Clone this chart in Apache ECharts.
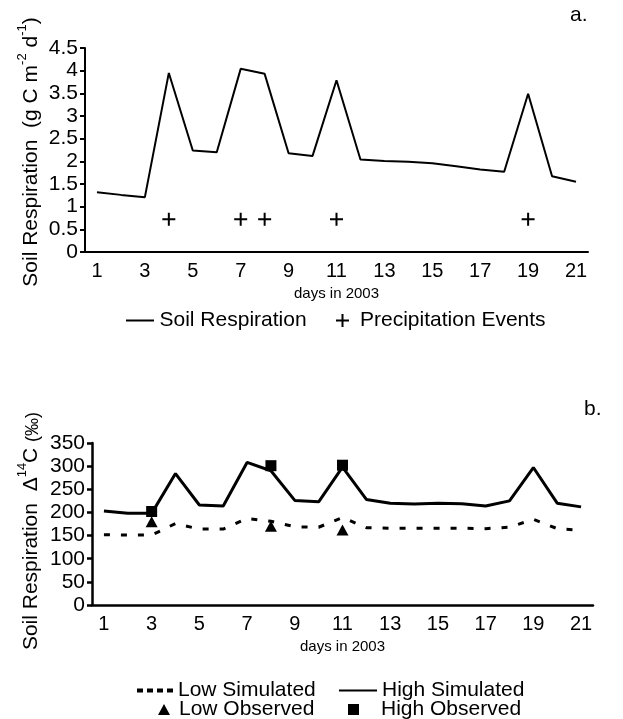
<!DOCTYPE html>
<html>
<head>
<meta charset="utf-8">
<script src="https://cdn.jsdelivr.net/npm/echarts@6/dist/echarts.min.js"></script>
<style>
  html, body { margin: 0; padding: 0; background: #fff; }
  #chart { width: 623px; height: 719px; }
</style>
</head>
<body>
<div id="chart"></div>
<script>
// days on the x axis
var days = ['1','2','3','4','5','6','7','8','9','10','11','12','13','14','15','16','17','18','19','20','21'];

// panel a
var soilResp = [1.32, 1.26, 1.21, 3.95, 2.24, 2.20, 4.04, 3.93, 2.18, 2.12, 3.79, 2.04, 2.01, 1.99, 1.96, 1.89, 1.82, 1.77, 3.49, 1.67, 1.55];
var precipDays = ['4', '7', '8', '11', '19'];
var precipLevel = 0.72;

// panel b
var highSim = [203, 198, 198, 284, 216, 214, 308, 290, 226, 223, 298, 228, 220, 218, 220, 219, 214, 225, 297, 220, 212];
var lowSim = [152, 151, 151, 176, 164, 164, 187, 181, 169, 168, 189, 167, 166, 166, 166, 166, 165, 168, 185, 165, 161];
var obsDays = ['3', '8', '11'];
var lowObs = [180, 170, 162];
var highObs = [202, 301, 302];

var FONT = 'Liberation Sans, Arial, sans-serif';
var plusPath = 'path://M5.5,0h2v5.5h5.5v2h-5.5v5.5h-2v-5.5h-5.5v-2h5.5z';
var dashIcon = 'path://M0,0h6v4h-6zM10,0h6v4h-6zM20,0h6v4h-6zM30,0h6v4h-6z';

function xAxisFor(grid, lw) {
  return {
    type: 'category', gridIndex: grid, data: days, boundaryGap: true,
    axisLine: { lineStyle: { color: '#000', width: lw } },
    axisTick: { interval: 0, length: 6, lineStyle: { color: '#000', width: lw } },
    axisLabel: { interval: 1, color: '#000', fontSize: 20, margin: 9, fontFamily: FONT },
    name: 'days in 2003', nameLocation: 'middle', nameGap: 34,
    nameTextStyle: { color: '#000', fontSize: 15, fontFamily: FONT },
    splitLine: { show: false }
  };
}
function yAxisFor(grid, max, step, lw) {
  return {
    type: 'value', gridIndex: grid, min: 0, max: max, interval: step,
    axisLine: { show: true, lineStyle: { color: '#000', width: lw } },
    axisTick: { show: true, length: 5, lineStyle: { color: '#000', width: lw } },
    axisLabel: { color: '#000', fontSize: 21, margin: 7, fontFamily: FONT },
    splitLine: { show: false }
  };
}
var legendText = { fontSize: 21, color: '#000', fontFamily: FONT };

var chart = echarts.init(document.getElementById('chart'));
chart.setOption({
  animation: false,
  textStyle: { fontFamily: FONT, color: '#000' },
  grid: [
    { left: 85, top: 48, width: 503, height: 204 },
    { left: 92, top: 443, width: 501, height: 162 }
  ],
  xAxis: [xAxisFor(0, 2), xAxisFor(1, 2.5)],
  yAxis: [yAxisFor(0, 4.5, 0.5, 2), yAxisFor(1, 350, 50, 2.5)],
  legend: [
    { data: [{ name: 'Soil Respiration', icon: 'path://M0,0H28V2H0z' }], left: 121, top: 305, itemWidth: 29, itemHeight: 2, itemGap: 0,
      textStyle: legendText, selectedMode: false },
    { data: [{ name: 'Precipitation Events', icon: plusPath }], left: 331, top: 305, itemWidth: 13, itemHeight: 13,
      textStyle: Object.assign({ padding: [0, 0, 0, 6] }, legendText), selectedMode: false },
    { data: [{ name: 'Low Simulated', icon: dashIcon }], left: 132, top: 675, itemWidth: 36, itemHeight: 4,
      textStyle: legendText, selectedMode: false },
    { data: [{ name: 'High Simulated', icon: 'path://M0,0H38V2H0z' }], left: 334, top: 675, itemWidth: 38, itemHeight: 2,
      textStyle: legendText, selectedMode: false },
    { data: [{ name: 'Low Observed', icon: 'triangle' }], left: 153, top: 694, itemWidth: 12, itemHeight: 11,
      textStyle: Object.assign({ padding: [0, 0, 0, 4] }, legendText), selectedMode: false },
    { data: [{ name: 'High Observed', icon: 'rect' }], left: 343, top: 694, itemWidth: 11, itemHeight: 11,
      textStyle: Object.assign({ padding: [0, 0, 0, 17] }, legendText), selectedMode: false }
  ],
  graphic: [
    { type: 'text', left: 570, top: 5, style: { text: 'a.', font: '21px ' + FONT, fill: '#000' } },
    { type: 'text', left: 584, top: 399, style: { text: 'b.', font: '21px ' + FONT, fill: '#000' } },
    { type: 'text', x: 29, y: 152, rotation: Math.PI / 2,
      style: { text: '{m|Soil Respiration  (g C m}{s|-2}{m| d}{s|-1}{m|)}', align: 'center', verticalAlign: 'middle',
        rich: { m: { fontSize: 21, fontFamily: FONT, lineHeight: 26, verticalAlign: 'bottom' },
                s: { fontSize: 13, fontFamily: FONT, lineHeight: 26, verticalAlign: 'top' } }, fill: '#000' } },
    { type: 'text', x: 29, y: 531, rotation: Math.PI / 2,
      style: { text: '{m|Soil Respiration  \u0394}{s|14}{m|C }{p|(\u2030)}', align: 'center', verticalAlign: 'middle',
        rich: { m: { fontSize: 21, fontFamily: FONT, lineHeight: 26, verticalAlign: 'bottom' },
                s: { fontSize: 13, fontFamily: FONT, lineHeight: 26, verticalAlign: 'top' },
                p: { fontSize: 18, fontFamily: FONT, lineHeight: 26, verticalAlign: 'bottom' } }, fill: '#000' } }
  ],
  series: [
    { name: 'Soil Respiration', type: 'line', xAxisIndex: 0, yAxisIndex: 0, data: soilResp,
      symbol: 'none', lineStyle: { color: '#000', width: 2 }, itemStyle: { color: '#000' } },
    { name: 'Precipitation Events', type: 'scatter', xAxisIndex: 0, yAxisIndex: 0,
      data: precipDays.map(function (d) { return [d, precipLevel]; }),
      symbol: plusPath, symbolSize: 13, itemStyle: { color: '#000', opacity: 1 } },
    { name: 'Low Simulated', type: 'line', xAxisIndex: 1, yAxisIndex: 1, data: lowSim,
      symbol: 'none', lineStyle: { color: '#000', width: 3, type: [6, 11] }, itemStyle: { color: '#000' } },
    { name: 'High Simulated', type: 'line', xAxisIndex: 1, yAxisIndex: 1, data: highSim,
      symbol: 'none', lineStyle: { color: '#000', width: 3 }, itemStyle: { color: '#000' } },
    { name: 'Low Observed', type: 'scatter', xAxisIndex: 1, yAxisIndex: 1,
      data: obsDays.map(function (d, i) { return [d, lowObs[i]]; }),
      symbol: 'triangle', symbolSize: [12, 11], itemStyle: { color: '#000', opacity: 1 } },
    { name: 'High Observed', type: 'scatter', xAxisIndex: 1, yAxisIndex: 1,
      data: obsDays.map(function (d, i) { return [d, highObs[i]]; }),
      symbol: 'rect', symbolSize: 11, itemStyle: { color: '#000', opacity: 1 } }
  ]
});
</script>
</body>
</html>
